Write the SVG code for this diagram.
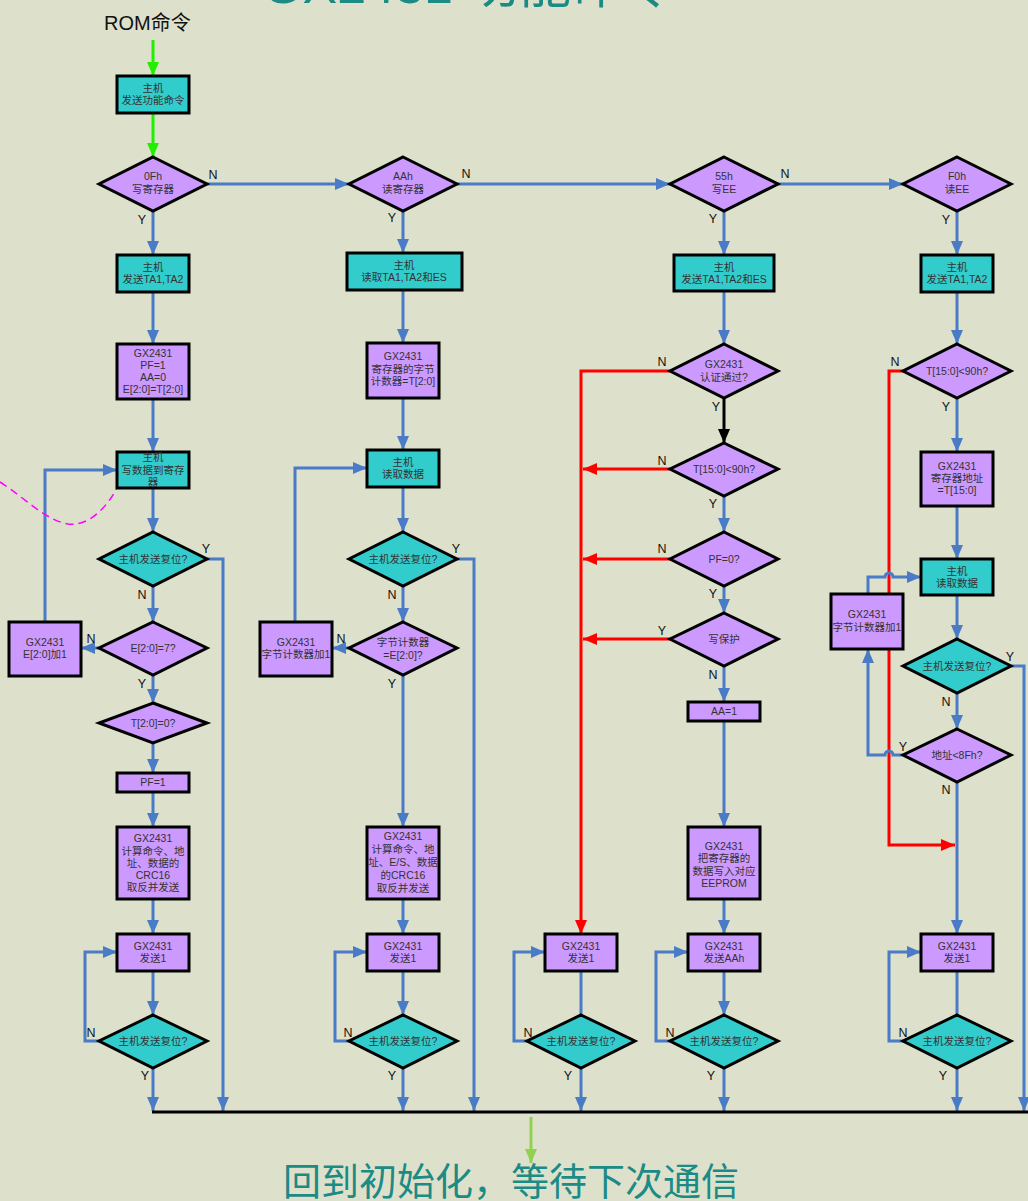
<svg xmlns="http://www.w3.org/2000/svg" width="1028" height="1201" viewBox="0 0 1028 1201">
<style>
.cy{fill:#33CCCC;stroke:#000;stroke-width:3}
.pu{fill:#CC99FF;stroke:#000;stroke-width:3}
.b{fill:none;stroke:#4A7BC7;stroke-width:3}
.r{fill:none;stroke:#FF0000;stroke-width:3}
.k{fill:none;stroke:#000;stroke-width:3}
.g{fill:none;stroke:#22EE00;stroke-width:3}
text{font-family:"Liberation Sans","Noto Sans CJK SC",sans-serif}
.t{font-size:10.5px;fill:#333;text-anchor:middle}
.l{font-size:12.5px;fill:#111;text-anchor:middle}
.big{fill:#1C8A85}
</style>
<defs>
<marker id="ab" viewBox="0 0 14 12" refX="14" refY="6" markerWidth="14" markerHeight="12" markerUnits="userSpaceOnUse" orient="auto"><path d="M0,0L14,6L0,12z" fill="#4A7BC7"/></marker>
<marker id="ar" viewBox="0 0 14 12" refX="14" refY="6" markerWidth="14" markerHeight="12" markerUnits="userSpaceOnUse" orient="auto"><path d="M0,0L14,6L0,12z" fill="#FF0000"/></marker>
<marker id="ak" viewBox="0 0 14 12" refX="14" refY="6" markerWidth="14" markerHeight="12" markerUnits="userSpaceOnUse" orient="auto"><path d="M0,0L14,6L0,12z" fill="#000"/></marker>
<marker id="ag" viewBox="0 0 14 12" refX="14" refY="6" markerWidth="14" markerHeight="12" markerUnits="userSpaceOnUse" orient="auto"><path d="M0,0L14,6L0,12z" fill="#22EE00"/></marker>
<marker id="al" viewBox="0 0 14 12" refX="14" refY="6" markerWidth="14" markerHeight="12" markerUnits="userSpaceOnUse" orient="auto"><path d="M0,0L14,6L0,12z" fill="#92D050"/></marker>
</defs>
<rect x="0" y="0" width="1028" height="1201" fill="#DDE1CB"/>
<text class="big" x="262" y="3" font-size="52">GX2431 功能命令</text>
<text x="104" y="30" font-size="20" fill="#111">ROM命令</text>

<g id="connectors">
<path class="g" d="M153,40V76" marker-end="url(#ag)"/>
<path class="g" d="M153,114V157" marker-end="url(#ag)"/>
<path class="b" d="M207,184H349" marker-end="url(#ab)"/>
<path class="b" d="M457,184H670" marker-end="url(#ab)"/>
<path class="b" d="M778,184H903" marker-end="url(#ab)"/>
<!-- col1 -->
<path class="b" d="M153,211V255" marker-end="url(#ab)"/>
<path class="b" d="M153,292V344" marker-end="url(#ab)"/>
<path class="b" d="M153,399V452" marker-end="url(#ab)"/>
<path class="b" d="M153,488V532" marker-end="url(#ab)"/>
<path class="b" d="M207,559H223V1111" marker-end="url(#ab)"/>
<path class="b" d="M153,586V622" marker-end="url(#ab)"/>
<path class="b" d="M99,648H81" marker-end="url(#ab)"/>
<path class="b" d="M45,622V470H117" marker-end="url(#ab)"/>
<path class="b" d="M153,675V703" marker-end="url(#ab)"/>
<path class="b" d="M153,743V773" marker-end="url(#ab)"/>
<path class="b" d="M153,792V827" marker-end="url(#ab)"/>
<path class="b" d="M153,899V934" marker-end="url(#ab)"/>
<path class="b" d="M153,971V1015" marker-end="url(#ab)"/>
<path class="b" d="M99,1041H85V952H117" marker-end="url(#ab)"/>
<path class="b" d="M153,1068V1111" marker-end="url(#ab)"/>
<!-- col2 -->
<path class="b" d="M403,211V253" marker-end="url(#ab)"/>
<path class="b" d="M403,290V343" marker-end="url(#ab)"/>
<path class="b" d="M403,398V450" marker-end="url(#ab)"/>
<path class="b" d="M403,487V532" marker-end="url(#ab)"/>
<path class="b" d="M457,559H474V1111" marker-end="url(#ab)"/>
<path class="b" d="M403,586V622" marker-end="url(#ab)"/>
<path class="b" d="M349,648H332" marker-end="url(#ab)"/>
<path class="b" d="M295,622V468H367" marker-end="url(#ab)"/>
<path class="b" d="M403,675V827" marker-end="url(#ab)"/>
<path class="b" d="M403,899V934" marker-end="url(#ab)"/>
<path class="b" d="M403,971V1015" marker-end="url(#ab)"/>
<path class="b" d="M349,1041H335V952H367" marker-end="url(#ab)"/>
<path class="b" d="M403,1068V1111" marker-end="url(#ab)"/>
<!-- col3 -->
<path class="r" d="M670,371H581V934" marker-end="url(#ar)"/>
<path class="r" d="M670,469H583" marker-end="url(#ar)"/>
<path class="r" d="M670,559H583" marker-end="url(#ar)"/>
<path class="r" d="M670,639H583" marker-end="url(#ar)"/>
<path class="b" d="M581,971V1015"/>
<path class="b" d="M527,1041H514V952H545" marker-end="url(#ab)"/>
<path class="b" d="M581,1068V1111" marker-end="url(#ab)"/>
<!-- col4 -->
<path class="b" d="M724,211V255" marker-end="url(#ab)"/>
<path class="b" d="M724,291V344" marker-end="url(#ab)"/>
<path class="k" d="M724,398V443" marker-end="url(#ak)"/>
<path class="b" d="M724,496V532" marker-end="url(#ab)"/>
<path class="b" d="M724,586V613" marker-end="url(#ab)"/>
<path class="b" d="M724,666V702" marker-end="url(#ab)"/>
<path class="b" d="M724,721V827" marker-end="url(#ab)"/>
<path class="b" d="M724,899V934" marker-end="url(#ab)"/>
<path class="b" d="M724,971V1015" marker-end="url(#ab)"/>
<path class="b" d="M670,1041H656V952H688" marker-end="url(#ab)"/>
<path class="b" d="M724,1068V1111" marker-end="url(#ab)"/>
<!-- col5 -->
<path class="r" d="M903,371H889V845H955" marker-end="url(#ar)"/>
<path class="b" d="M957,211V255" marker-end="url(#ab)"/>
<path class="b" d="M957,292V344" marker-end="url(#ab)"/>
<path class="b" d="M957,398V452" marker-end="url(#ab)"/>
<path class="b" d="M957,506V559" marker-end="url(#ab)"/>
<path class="b" d="M957,595V639" marker-end="url(#ab)"/>
<path class="b" d="M1011,666H1024V1111" marker-end="url(#ab)"/>
<path class="b" d="M957,693V729" marker-end="url(#ab)"/>
<path class="b" d="M903,755H893A4,4 0 0 0 885,755H868V649" marker-end="url(#ab)"/>
<path class="b" d="M868,594V577H885A4,4 0 0 1 893,577H921" marker-end="url(#ab)"/>
<path class="b" d="M957,782V934" marker-end="url(#ab)"/>
<path class="b" d="M957,971V1015"/>
<path class="b" d="M903,1041H889V952H921" marker-end="url(#ab)"/>
<path class="b" d="M957,1068V1111" marker-end="url(#ab)"/>
<!-- bottom -->
<path class="k" d="M152,1112H1028"/>
<path fill="none" stroke="#92D050" stroke-width="3" d="M531,1117V1163" marker-end="url(#al)"/>
<path fill="none" stroke="#FF00FF" stroke-width="1.5" stroke-dasharray="8,5" d="M0,482C25,498 45,520 68,524C90,527 108,505 117,488"/>
</g>

<g id="labels">
<text class="l" x="213" y="179">N</text>
<text class="l" x="142" y="224">Y</text>
<text class="l" x="466" y="178">N</text>
<text class="l" x="392" y="222">Y</text>
<text class="l" x="785" y="178">N</text>
<text class="l" x="713" y="223">Y</text>
<text class="l" x="946" y="224">Y</text>
<text class="l" x="895" y="366">N</text>
<text class="l" x="662" y="366">N</text>
<text class="l" x="716" y="411">Y</text>
<text class="l" x="946" y="411">Y</text>
<text class="l" x="662" y="465">N</text>
<text class="l" x="713" y="508">Y</text>
<text class="l" x="662" y="553">N</text>
<text class="l" x="713" y="598">Y</text>
<text class="l" x="662" y="635">Y</text>
<text class="l" x="713" y="679">N</text>
<text class="l" x="206" y="553">Y</text>
<text class="l" x="142" y="599">N</text>
<text class="l" x="91" y="643">N</text>
<text class="l" x="142" y="688">Y</text>
<text class="l" x="456" y="553">Y</text>
<text class="l" x="392" y="599">N</text>
<text class="l" x="341" y="643">N</text>
<text class="l" x="392" y="688">Y</text>
<text class="l" x="1010" y="661">Y</text>
<text class="l" x="946" y="706">N</text>
<text class="l" x="903" y="751">Y</text>
<text class="l" x="946" y="794">N</text>
<text class="l" x="91" y="1037">N</text>
<text class="l" x="145" y="1080">Y</text>
<text class="l" x="348" y="1037">N</text>
<text class="l" x="392" y="1080">Y</text>
<text class="l" x="528" y="1037">N</text>
<text class="l" x="568" y="1080">Y</text>
<text class="l" x="670" y="1037">N</text>
<text class="l" x="711" y="1080">Y</text>
<text class="l" x="903" y="1037">N</text>
<text class="l" x="943" y="1080">Y</text>
</g>

<g id="n-cmd"><rect class="cy" x="117" y="76" width="72" height="37"/><text class="t" x="153" y="92">主机</text><text class="t" x="153" y="104">发送功能命令</text></g>
<g id="n-d0F"><polygon class="pu" points="153,157 207,184 153,211 99,184"/><text class="t" x="153" y="180">0Fh</text><text class="t" x="153" y="193">写寄存器</text></g>
<g id="n-dAA"><polygon class="pu" points="403,157 457,184 403,211 349,184"/><text class="t" x="403" y="180">AAh</text><text class="t" x="403" y="193">读寄存器</text></g>
<g id="n-d55"><polygon class="pu" points="724,157 778,184 724,211 670,184"/><text class="t" x="724" y="180">55h</text><text class="t" x="724" y="193">写EE</text></g>
<g id="n-dF0"><polygon class="pu" points="957,157 1011,184 957,211 903,184"/><text class="t" x="957" y="180">F0h</text><text class="t" x="957" y="193">读EE</text></g>

<g id="n-b1a"><rect class="cy" x="117" y="255" width="72" height="37"/><text class="t" x="153" y="271">主机</text><text class="t" x="153" y="283">发送TA1,TA2</text></g>
<g id="n-b2a"><rect class="cy" x="347" y="253" width="115" height="37"/><text class="t" x="404" y="269">主机</text><text class="t" x="404" y="281">读取TA1,TA2和ES</text></g>
<g id="n-b4a"><rect class="cy" x="674" y="255" width="100" height="36"/><text class="t" x="724" y="271">主机</text><text class="t" x="724" y="283">发送TA1,TA2和ES</text></g>
<g id="n-b5a"><rect class="cy" x="921" y="255" width="72" height="37"/><text class="t" x="957" y="271">主机</text><text class="t" x="957" y="283">发送TA1,TA2</text></g>

<g id="n-b1b"><rect class="pu" x="117" y="344" width="72" height="55"/><text class="t" x="153" y="357">GX2431</text><text class="t" x="153" y="369">PF=1</text><text class="t" x="153" y="381">AA=0</text><text class="t" x="153" y="393">E[2:0]=T[2:0]</text></g>
<g id="n-b2b"><rect class="pu" x="367" y="343" width="72" height="55"/><text class="t" x="403" y="360">GX2431</text><text class="t" x="403" y="373">寄存器的字节</text><text class="t" x="403" y="385">计数器=T[2:0]</text></g>
<g id="n-d4a"><polygon class="pu" points="724,344 778,371 724,398 670,371"/><text class="t" x="724" y="368">GX2431</text><text class="t" x="724" y="381">认证通过?</text></g>
<g id="n-d5a"><polygon class="pu" points="957,344 1011,371 957,398 903,371"/><text class="t" x="957" y="375">T[15:0]&lt;90h?</text></g>

<g id="n-b1c"><rect class="cy" x="117" y="452" width="72" height="36"/><text class="t" x="153" y="461">主机</text><text class="t" x="153" y="474">写数据到寄存</text><text class="t" x="153" y="486">器</text></g>
<g id="n-b2c"><rect class="cy" x="367" y="450" width="72" height="37"/><text class="t" x="403" y="466">主机</text><text class="t" x="403" y="478">读取数据</text></g>
<g id="n-d4b"><polygon class="pu" points="724,443 778,469 724,496 670,469"/><text class="t" x="724" y="473">T[15:0]&lt;90h?</text></g>
<g id="n-b5b"><rect class="pu" x="921" y="452" width="72" height="54"/><text class="t" x="957" y="470">GX2431</text><text class="t" x="957" y="482">寄存器地址</text><text class="t" x="957" y="494">=T[15:0]</text></g>

<g id="n-d1r"><polygon class="cy" points="153,532 207,559 153,586 99,559"/><text class="t" x="153" y="563">主机发送复位?</text></g>
<g id="n-d2r"><polygon class="cy" points="403,532 457,559 403,586 349,559"/><text class="t" x="403" y="563">主机发送复位?</text></g>
<g id="n-d4c"><polygon class="pu" points="724,532 778,559 724,586 670,559"/><text class="t" x="724" y="563">PF=0?</text></g>
<g id="n-b5c"><rect class="cy" x="921" y="559" width="72" height="36"/><text class="t" x="957" y="575">主机</text><text class="t" x="957" y="587">读取数据</text></g>
<g id="n-b5d"><rect class="pu" x="831" y="594" width="72" height="55"/><text class="t" x="867" y="618">GX2431</text><text class="t" x="867" y="631">字节计数器加1</text></g>

<g id="n-d1e"><polygon class="pu" points="153,622 207,648 153,675 99,648"/><text class="t" x="153" y="652">E[2:0]=7?</text></g>
<g id="n-b1e"><rect class="pu" x="9" y="622" width="72" height="54"/><text class="t" x="45" y="646">GX2431</text><text class="t" x="45" y="658">E[2:0]加1</text></g>
<g id="n-d2e"><polygon class="pu" points="403,622 457,648 403,675 349,648"/><text class="t" x="403" y="646">字节计数器</text><text class="t" x="403" y="659">=E[2:0]?</text></g>
<g id="n-b2e"><rect class="pu" x="260" y="622" width="72" height="54"/><text class="t" x="296" y="646">GX2431</text><text class="t" x="296" y="658">字节计数器加1</text></g>
<g id="n-d4d"><polygon class="pu" points="724,613 778,639 724,666 670,639"/><text class="t" x="724" y="643">写保护</text></g>
<g id="n-d5r"><polygon class="cy" points="957,639 1011,666 957,693 903,666"/><text class="t" x="957" y="670">主机发送复位?</text></g>

<g id="n-d1f"><polygon class="pu" points="153,703 207,723 153,743 99,723"/><text class="t" x="153" y="727">T[2:0]=0?</text></g>
<g id="n-b4b"><rect class="pu" x="688" y="702" width="72" height="19"/><text class="t" x="724" y="715">AA=1</text></g>
<g id="n-d5b"><polygon class="pu" points="957,729 1011,755 957,782 903,755"/><text class="t" x="957" y="759">地址&lt;8Fh?</text></g>
<g id="n-b1f"><rect class="pu" x="117" y="773" width="72" height="19"/><text class="t" x="153" y="786">PF=1</text></g>

<g id="n-b1g"><rect class="pu" x="117" y="827" width="72" height="72"/><text class="t" x="153" y="842">GX2431</text><text class="t" x="153" y="855">计算命令、地</text><text class="t" x="153" y="867">址、数据的</text><text class="t" x="153" y="879">CRC16</text><text class="t" x="153" y="891">取反并发送</text></g>
<g id="n-b2g"><rect class="pu" x="367" y="827" width="72" height="72"/><text class="t" x="403" y="840">GX2431</text><text class="t" x="403" y="853">计算命令、地</text><text class="t" x="403" y="866">址、E/S、数据</text><text class="t" x="403" y="879">的CRC16</text><text class="t" x="403" y="892">取反并发送</text></g>
<g id="n-b4g"><rect class="pu" x="688" y="827" width="72" height="72"/><text class="t" x="724" y="850">GX2431</text><text class="t" x="724" y="862">把寄存器的</text><text class="t" x="724" y="875">数据写入对应</text><text class="t" x="724" y="887">EEPROM</text></g>

<g id="n-b1h"><rect class="pu" x="117" y="934" width="72" height="37"/><text class="t" x="153" y="950">GX2431</text><text class="t" x="153" y="962">发送1</text></g>
<g id="n-b2h"><rect class="pu" x="367" y="934" width="72" height="37"/><text class="t" x="403" y="950">GX2431</text><text class="t" x="403" y="962">发送1</text></g>
<g id="n-b3h"><rect class="pu" x="545" y="934" width="72" height="37"/><text class="t" x="581" y="950">GX2431</text><text class="t" x="581" y="962">发送1</text></g>
<g id="n-b4h"><rect class="pu" x="688" y="934" width="72" height="37"/><text class="t" x="724" y="950">GX2431</text><text class="t" x="724" y="962">发送AAh</text></g>
<g id="n-b5h"><rect class="pu" x="921" y="934" width="72" height="37"/><text class="t" x="957" y="950">GX2431</text><text class="t" x="957" y="962">发送1</text></g>

<g id="n-r1"><polygon class="cy" points="153,1015 207,1041 153,1068 99,1041"/><text class="t" x="153" y="1045">主机发送复位?</text></g>
<g id="n-r2"><polygon class="cy" points="403,1015 457,1041 403,1068 349,1041"/><text class="t" x="403" y="1045">主机发送复位?</text></g>
<g id="n-r3"><polygon class="cy" points="581,1015 635,1041 581,1068 527,1041"/><text class="t" x="581" y="1045">主机发送复位?</text></g>
<g id="n-r4"><polygon class="cy" points="724,1015 778,1041 724,1068 670,1041"/><text class="t" x="724" y="1045">主机发送复位?</text></g>
<g id="n-r5"><polygon class="cy" points="957,1015 1011,1041 957,1068 903,1041"/><text class="t" x="957" y="1045">主机发送复位?</text></g>

<text class="big" x="511" y="1195" font-size="38" text-anchor="middle">回到初始化，等待下次通信</text>
</svg>
